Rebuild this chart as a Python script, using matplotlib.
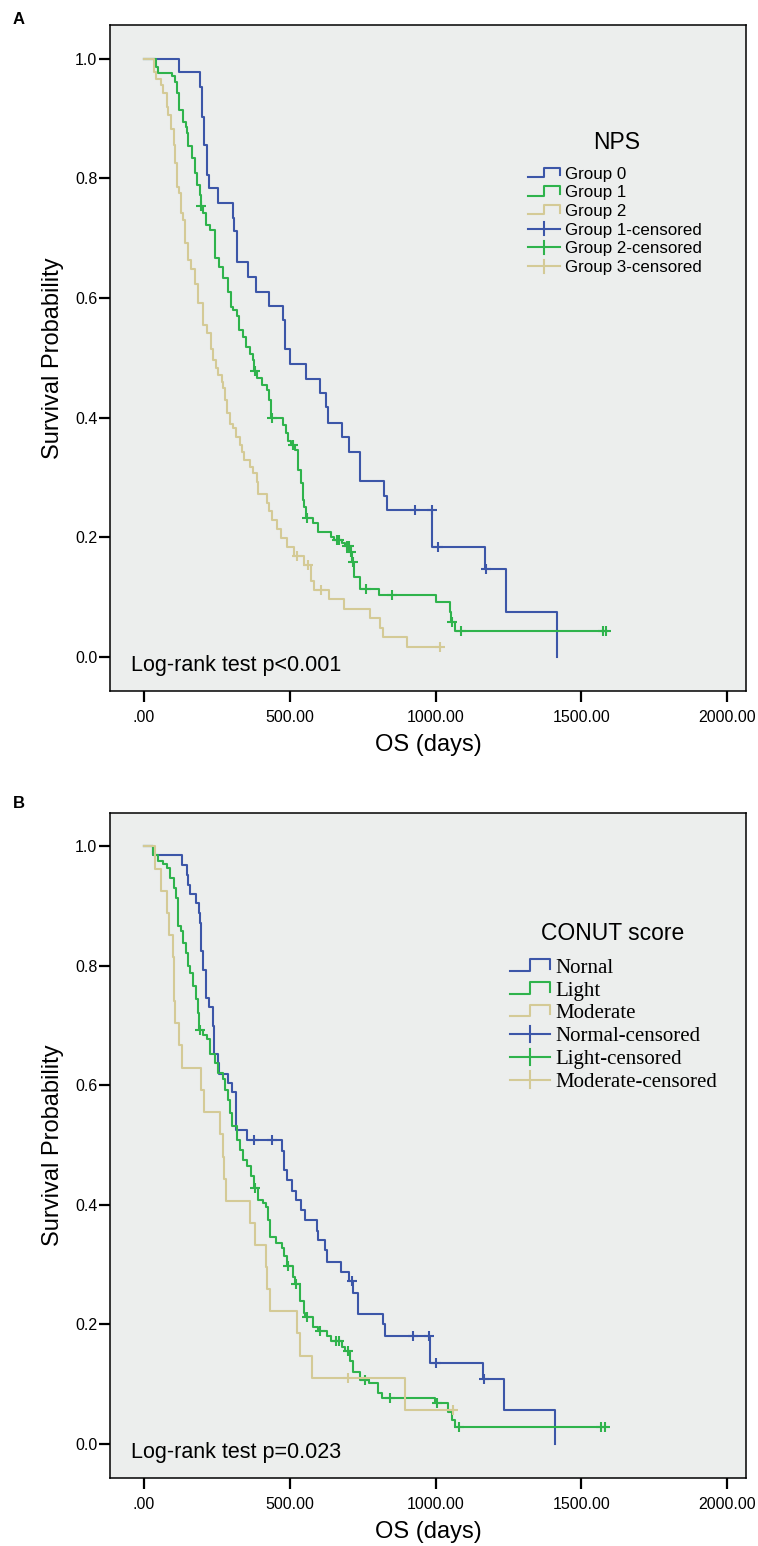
"""
Kaplan-Meier curves: NPS groups (A) and CONUT score (B)
"""

import numpy as np
import matplotlib
matplotlib.use('Agg')
import matplotlib.pyplot as plt
from matplotlib.lines import Line2D
from matplotlib.legend_handler import HandlerBase

# ---- Panel A: NPS ----
a_g0_time = [0, 120, 192, 198, 204, 217, 221, 255, 304, 310, 318, 355, 384, 427, 478, 484,
             500, 556, 604, 624, 632, 680, 704, 739, 742, 823, 833, 989, 1170, 1242, 1416]
a_g0_surv = [1.0, 0.977, 0.953, 0.903, 0.855, 0.805, 0.783, 0.758, 0.733, 0.711, 0.660, 0.635,
             0.610, 0.586, 0.563, 0.514, 0.489, 0.465, 0.441, 0.417, 0.391, 0.368, 0.343, 0.319,
             0.294, 0.269, 0.2456, 0.184, 0.1475, 0.0746, 0.0]
a_g0_cens = [930, 987, 1007, 1172]

a_g1_time = [0, 41, 49, 95, 106, 112, 120, 135, 144, 148, 152, 164, 175, 183, 192, 194, 201, 213,
             226, 244, 257, 272, 289, 297, 306, 318, 324, 339, 350, 364, 375, 378, 389, 404, 421,
             429, 435, 478, 487, 495, 505, 518, 529, 537, 544, 549, 555, 579, 598, 640, 650, 680,
             690, 708, 714, 720, 740, 806, 1002, 1050, 1053, 1066]
a_g1_surv = [1.0, 0.985, 0.975, 0.970, 0.961, 0.942, 0.914, 0.894, 0.886, 0.875, 0.853, 0.833,
             0.808, 0.789, 0.772, 0.753, 0.741, 0.722, 0.713, 0.666, 0.652, 0.633, 0.610, 0.585,
             0.580, 0.569, 0.546, 0.535, 0.518, 0.507, 0.496, 0.478, 0.466, 0.454, 0.446, 0.429,
             0.399, 0.388, 0.374, 0.360, 0.354, 0.346, 0.312, 0.290, 0.262, 0.251, 0.232, 0.2245,
             0.209, 0.201, 0.195, 0.190, 0.186, 0.176, 0.159, 0.134, 0.113, 0.1036, 0.0914, 0.075,
             0.059, 0.0434]
a_g1_cens = [196, 381, 438, 512, 560, 661, 670, 695, 704, 710, 716, 762, 850, 1056, 1086, 1575, 1585]

a_g2_time = [0, 34, 40, 58, 64, 78, 83, 92, 101, 106, 114, 121, 126, 135, 141, 149, 161, 175, 184,
             203, 217, 228, 238, 247, 255, 267, 272, 278, 284, 293, 306, 316, 329, 335, 343, 364,
             375, 387, 392, 421, 430, 440, 455, 470, 490, 515, 549, 573, 583, 636, 687, 775, 810,
             821, 901]
a_g2_surv = [1.0, 0.978, 0.965, 0.956, 0.942, 0.919, 0.906, 0.883, 0.855, 0.825, 0.786, 0.775,
             0.741, 0.730, 0.691, 0.663, 0.649, 0.624, 0.591, 0.555, 0.541, 0.515, 0.496, 0.482,
             0.471, 0.460, 0.449, 0.429, 0.407, 0.390, 0.382, 0.368, 0.354, 0.343, 0.329, 0.318,
             0.307, 0.293, 0.273, 0.258, 0.243, 0.228, 0.213, 0.198, 0.183, 0.168, 0.154, 0.126,
             0.112, 0.096, 0.080, 0.065, 0.048, 0.033, 0.017]
a_g2_cens = [525, 564, 606, 1015]

a_labels = ['Group 0', 'Group 1', 'Group 2',
            'Group 1-censored', 'Group 2-censored', 'Group 3-censored']

# ---- Panel B: CONUT score ----
b_nor_time = [0, 30, 131, 146, 152, 158, 178, 188, 192, 196, 201, 213, 221, 236, 241, 252, 258,
              287, 303, 314, 352, 472, 480, 489, 507, 521, 537, 552, 592, 598, 621, 627, 675, 704,
              716, 735, 819, 827, 981, 1164, 1235, 1410]
b_nor_surv = [1.0, 0.985, 0.969, 0.953, 0.936, 0.921, 0.905, 0.889, 0.872, 0.825, 0.794, 0.747,
              0.731, 0.699, 0.652, 0.638, 0.620, 0.604, 0.589, 0.525, 0.509, 0.491, 0.458, 0.441,
              0.424, 0.408, 0.391, 0.374, 0.357, 0.341, 0.324, 0.305, 0.288, 0.273, 0.252, 0.218,
              0.200, 0.181, 0.136, 0.109, 0.056, 0.0]
b_nor_cens = [377, 438, 712, 924, 979, 1002, 1166]

b_lig_time = [0, 32, 46, 64, 78, 89, 101, 110, 118, 126, 135, 144, 149, 158, 167, 178, 186, 190,
              203, 215, 226, 244, 252, 270, 278, 289, 293, 301, 318, 329, 341, 354, 366, 376, 390,
              407, 419, 424, 432, 453, 472, 480, 490, 510, 518, 535, 547, 553, 581, 595, 627, 640,
              678, 690, 707, 718, 740, 773, 804, 815, 998, 1044, 1055, 1067]
b_lig_surv = [1.0, 0.985, 0.975, 0.970, 0.964, 0.947, 0.930, 0.914, 0.867, 0.858, 0.839, 0.822,
              0.800, 0.788, 0.766, 0.744, 0.721, 0.693, 0.685, 0.677, 0.652, 0.638, 0.621, 0.610,
              0.593, 0.576, 0.554, 0.532, 0.509, 0.492, 0.476, 0.465, 0.448, 0.428, 0.409, 0.403,
              0.397, 0.375, 0.347, 0.336, 0.328, 0.314, 0.298, 0.280, 0.268, 0.240, 0.219, 0.213,
              0.196, 0.189, 0.180, 0.172, 0.163, 0.155, 0.138, 0.121, 0.107, 0.102, 0.085, 0.077,
              0.068, 0.054, 0.040, 0.029]
b_lig_cens = [192, 381, 495, 521, 560, 604, 659, 667, 701, 758, 844, 1006, 1082, 1568, 1581]

b_mod_time = [0, 38, 57, 78, 86, 98, 102, 106, 120, 129, 196, 207, 261, 270, 275, 280, 364, 381,
              419, 423, 432, 525, 535, 575, 895]
b_mod_surv = [1.0, 0.963, 0.926, 0.889, 0.852, 0.815, 0.741, 0.704, 0.667, 0.630, 0.593, 0.556,
              0.519, 0.481, 0.444, 0.407, 0.370, 0.333, 0.296, 0.259, 0.222, 0.185, 0.148, 0.111,
              0.056]
b_mod_cens = [701, 1060]

b_labels = ['Nornal', 'Light', 'Moderate',
            'Normal-censored', 'Light-censored', 'Moderate-censored']

x_ticks = [0, 500, 1000, 1500, 2000]
x_ticklabels = ['.00', '500.00', '1000.00', '1500.00', '2000.00']
y_ticks = [0.0, 0.2, 0.4, 0.6, 0.8, 1.0]
y_ticklabels = ['0.0', '0.2', '0.4', '0.6', '0.8', '1.0']

BLUE = '#3c56a8'
GREEN = '#2fb34c'
TAN = '#d4ca96'
BG = '#eceeed'
LW = 1.5

plt.rcParams['font.family'] = 'Liberation Sans'


class StepHandler(HandlerBase):
    """Step-shaped legend glyph"""
    def create_artists(self, legend, orig_handle, xdescent, ydescent, width, height, fontsize, trans):
        x0, y0 = -xdescent, -ydescent
        xs = x0 + width * np.array([0, 0.5, 0.5, 1.0, 1.0])
        ys = y0 + height * np.array([0.1, 0.1, 0.95, 0.95, 0.25])
        return [Line2D(xs, ys, color=orig_handle.get_color(), lw=LW, transform=trans)]


class CensorHandler(HandlerBase):
    """Line with a vertical tick in the middle"""
    def create_artists(self, legend, orig_handle, xdescent, ydescent, width, height, fontsize, trans):
        x0, y0 = -xdescent, -ydescent
        h = Line2D([x0, x0 + width], [y0 + 0.5 * height] * 2,
                   color=orig_handle.get_color(), lw=LW, transform=trans)
        v = Line2D([x0 + 0.5 * width] * 2, [y0 - 0.1 * height, y0 + 1.1 * height],
                   color=orig_handle.get_color(), lw=LW, transform=trans)
        return [h, v]


def km_line(ax, times, surv, cens, color):
    times = list(times)
    surv = list(surv)
    if cens and max(cens) > times[-1]:
        times.append(max(cens))
        surv.append(surv[-1])
    ax.plot(times, surv, drawstyle='steps-post', color=color, lw=LW)
    # censor marks sit on the curve level at that time
    idx = np.searchsorted(times, cens, side='right') - 1
    ax.plot(cens, np.array(surv)[idx], linestyle='none', marker='+',
            markersize=7.5, markeredgewidth=LW, color=color)


def setup_axes(ax, pvalue_text):
    ax.set_facecolor(BG)
    ax.set_xlim(-117, 2065)
    ax.set_ylim(-0.057, 1.056)
    ax.set_xticks(x_ticks)
    ax.set_xticklabels(x_ticklabels)
    ax.set_yticks(y_ticks)
    ax.set_yticklabels(y_ticklabels)
    ax.tick_params(axis='both', direction='out', length=8, width=1.6, labelsize=11.5)
    ax.tick_params(axis='x', pad=6)
    ax.tick_params(axis='y', pad=1)
    for sp in ax.spines.values():
        sp.set_linewidth(1.1)
    ax.set_xlabel('OS (days)', fontsize=17, labelpad=6)
    ax.set_ylabel('Survival Probability', fontsize=17, labelpad=8)
    ax.text(-45, -0.015, pvalue_text, fontsize=15.5, va='center', ha='left')


def add_legend(ax, labels, title, title_xy, anchor, fontsize, family, spacing):
    colors = [BLUE, GREEN, TAN]
    step_h = [Line2D([], [], color=c) for c in colors]
    cens_h = [Line2D([], [], color=c) for c in colors]
    hmap = {h: StepHandler() for h in step_h}
    hmap.update({h: CensorHandler() for h in cens_h})
    ax.legend(step_h + cens_h, labels, loc='upper left', bbox_to_anchor=anchor,
              frameon=False, borderpad=0, borderaxespad=0, handlelength=1.9,
              handleheight=0.62, handletextpad=0.28, labelspacing=spacing,
              prop={'family': family, 'size': fontsize}, handler_map=hmap)
    ax.text(title_xy[0], title_xy[1], title, transform=ax.transAxes,
            fontsize=16.5, ha='center', va='center')


fig = plt.figure(figsize=(7.58, 15.46), dpi=100)
W, H = 758.0, 1546.0
ax_a = fig.add_axes([110 / W, 1 - 691 / H, 636 / W, 666 / H])
ax_b = fig.add_axes([110 / W, 1 - 1478 / H, 636 / W, 665 / H])

km_line(ax_a, a_g0_time, a_g0_surv, a_g0_cens, BLUE)
km_line(ax_a, a_g1_time, a_g1_surv, a_g1_cens, GREEN)
km_line(ax_a, a_g2_time, a_g2_surv, a_g2_cens, TAN)
setup_axes(ax_a, 'Log-rank test p<0.001')
add_legend(ax_a, a_labels, 'NPS', (0.796, 0.823), (0.657, 0.7875), 12.2, 'Liberation Sans', 0.22)

km_line(ax_b, b_nor_time, b_nor_surv, b_nor_cens, BLUE)
km_line(ax_b, b_lig_time, b_lig_surv, b_lig_cens, GREEN)
km_line(ax_b, b_mod_time, b_mod_surv, b_mod_cens, TAN)
setup_axes(ax_b, 'Log-rank test p=0.023')
add_legend(ax_b, b_labels, 'CONUT score', (0.791, 0.8195), (0.629, 0.781), 15, 'Liberation Serif', 0.18)

fig.text(13 / W, 1 - 19 / H, 'A', fontsize=12, fontweight='bold', va='center', ha='left')
fig.text(13 / W, 1 - 803 / H, 'B', fontsize=12, fontweight='bold', va='center', ha='left')

fig.savefig('out.png', dpi=100, facecolor='white')
